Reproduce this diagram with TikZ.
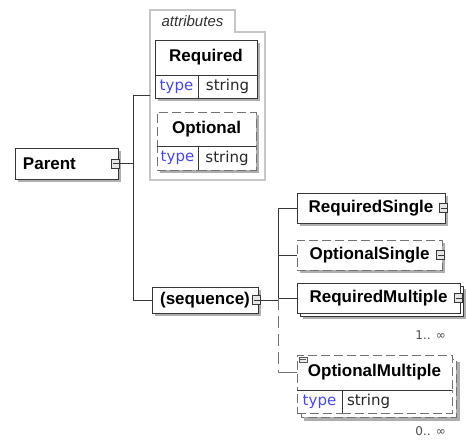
\documentclass[tikz,border=0pt]{standalone}
\usepackage{fontspec}
\setmainfont{Liberation Sans}
\newfontfamily\djv{DejaVu Sans}
\usetikzlibrary{shadows}
\definecolor{typeblue}{RGB}{70,70,255}
\definecolor{lin}{RGB}{55,55,55}
\definecolor{shd}{RGB}{175,175,175}
\definecolor{dsh}{RGB}{115,115,115}
\begin{document}
\begin{tikzpicture}[x=1pt,y=-1pt,
  base/.style={inner sep=0pt, outer sep=0pt, anchor=north west, fill=white},
  elem/.style={base, draw=lin, line width=0.9pt, font=\fontsize{17}{20}\selectfont\bfseries},
  optelem/.style={elem, draw=dsh, dash pattern=on 9pt off 4pt},
  cell/.style={base, draw=lin, line width=0.8pt, font=\djv\fontsize{15}{18}\selectfont},
  optcell/.style={cell, draw=dsh, dash pattern=on 9pt off 4pt},
  port/.style={draw=lin, fill=gray!20, line width=0.6pt, minimum width=8pt, minimum height=9pt, inner sep=0pt, outer sep=0pt},
  conn/.style={draw=lin, line width=0.9pt},
  optconn/.style={draw=dsh, line width=0.9pt, dash pattern=on 12pt off 6pt},
  shadowfill/.style={fill=shd},
  occ/.style={font=\djv\fontsize{12}{14}\selectfont, text=gray!60!black, anchor=east, inner sep=0pt},
  typetxt/.style={text=typeblue},
  strtxt/.style={text=gray!30!black}
]
\useasboundingbox (0,0) rectangle (466,441);
\fill[white] (0,0) rectangle (466,441);

% ---------- Parent ----------
\fill[shadowfill] (18,151) rectangle (121,182);
\node[elem, minimum width=103pt, minimum height=31pt, align=left, text width=87pt, inner xsep=8pt] (parent) at (15,148) {Parent};
\node[port] (pport) at ([xshift=-3pt]parent.east) {};
\draw[lin, line width=0.6pt] ([xshift=-2pt]pport.center) -- (pport.east);

% ---------- attributes container ----------
\node[base, fill=none, minimum width=115pt, minimum height=170pt] (attrbox) at (150,10) {};
\draw[draw=gray!55!black, double=gray!45, double distance=1.4pt, line width=0.6pt]
  (150,180) -- (150,10) -- (235,10) -- (235,32) -- (265,32) -- (265,180) -- cycle;
\node[font=\fontsize{15}{18}\selectfont\itshape, text=gray!40!black, inner sep=0pt] (attrlbl) at (192.5,21) {attributes};

% Required attribute
\fill[shadowfill] (158,43) rectangle (260,101);
\node[elem, minimum width=102pt, minimum height=35pt] (req) at (155,40) {Required};
\node[cell, minimum width=43pt, minimum height=23pt, typetxt] (reqt) at (155,75) {type};
\node[cell, minimum width=59pt, minimum height=23pt, strtxt] (reqs) at (198,75) {string};

% Optional attribute
\fill[shadowfill] (160,115) rectangle (259,173);
\node[optelem, minimum width=99pt, minimum height=34pt] (opt) at (157,112) {Optional};
\node[optcell, minimum width=41pt, minimum height=24pt, typetxt] (optt) at (157,146) {type};
\node[optcell, minimum width=58pt, minimum height=24pt, strtxt] (opts) at (198,146) {string};
\draw[lin, line width=0.8pt] (198,146) -- (198,170);
\draw[lin, line width=0.8pt] (157,146) -- (256,146);

% ---------- sequence ----------
\fill[shadowfill] (155,290) rectangle (261,316);
\node[elem, minimum width=106pt, minimum height=26pt] (seq) at (152,287) {(sequence)};
\node[port] (sport) at ([xshift=-2pt]seq.east) {};
\draw[lin, line width=0.6pt] ([xshift=-2pt]sport.center) -- (sport.east);

% ---------- RequiredSingle ----------
\fill[shadowfill] (300,196) rectangle (448,226);
\node[elem, minimum width=148pt, minimum height=30pt] (rs) at (297,193) {RequiredSingle};
\node[port] (rsport) at ([xshift=-2pt]rs.east) {};
\draw[lin, line width=0.6pt] ([xshift=-2pt]rsport.center) -- (rsport.east);

% ---------- OptionalSingle ----------
\fill[shadowfill] (300,243) rectangle (445,273);
\node[optelem, minimum width=145pt, minimum height=30pt] (os) at (297,240) {OptionalSingle};
\node[port] (osport) at ([xshift=-2pt]os.east) {};
\draw[lin, line width=0.6pt] ([xshift=-2pt]osport.center) -- (osport.east);

% ---------- RequiredMultiple ----------
\fill[shadowfill] (303,289) rectangle (466,319);
\draw[lin, line width=0.9pt, fill=white] (300,286) rectangle (463,316);
\node[elem, minimum width=163pt, minimum height=30pt] (rm) at (297,283) {RequiredMultiple};
\node[port] (rmport) at ([xshift=-2pt]rm.east) {};
\draw[lin, line width=0.6pt] ([xshift=-2pt]rmport.center) -- (rmport.east);
\node[occ] (rmocc) at (446,335) {1.. ∞};

% ---------- OptionalMultiple ----------
\fill[shadowfill] (304,362) rectangle (460,421);
\draw[draw=dsh, line width=0.9pt, dash pattern=on 9pt off 4pt, fill=white] (301,359) rectangle (456,417);
\node[optelem, minimum width=155pt, minimum height=35pt] (om) at (297,355) {OptionalMultiple};
\node[optcell, minimum width=45pt, minimum height=23pt, typetxt] (omt) at (297,390) {type};
\node[optcell, minimum width=110pt, minimum height=23pt, strtxt, text width=100pt, align=left, inner xsep=5pt] (oms) at (342,390) {string};
\draw[lin, line width=0.8pt] (297,390) -- (452,390);
\draw[lin, line width=0.8pt] (342,390) -- (342,413);
\draw[gray!70!black, line width=0.5pt, fill=gray!15] (299,357) rectangle (307,362);
\draw[gray!70!black, line width=0.5pt] (300,359.5) -- (306,359.5);
\node[occ] (omocc) at (446,431) {0.. ∞};

% ---------- connectors ----------
\coordinate (bus1) at (133,0);
\coordinate (bus2) at (278,0);
\draw[conn] (attrbox.west) -- (attrbox.west -| bus1) |- (seq.west);
\draw[conn] (pport.east) -- (pport.east -| bus1);
\draw[conn] (sport.east) -- (sport.east -| bus2);
\draw[conn] (rs.west) -- (rs.west -| bus2) -- (rm.west -| bus2) -- (rm.west);
\draw[conn] (os.west) -- (os.west -| bus2);
\draw[optconn] (rm.west -| bus2) -- (om.west -| bus2);
\draw[draw=dsh, line width=0.9pt] (om.west -| bus2) -- (om.west);
\end{tikzpicture}
\end{document}
